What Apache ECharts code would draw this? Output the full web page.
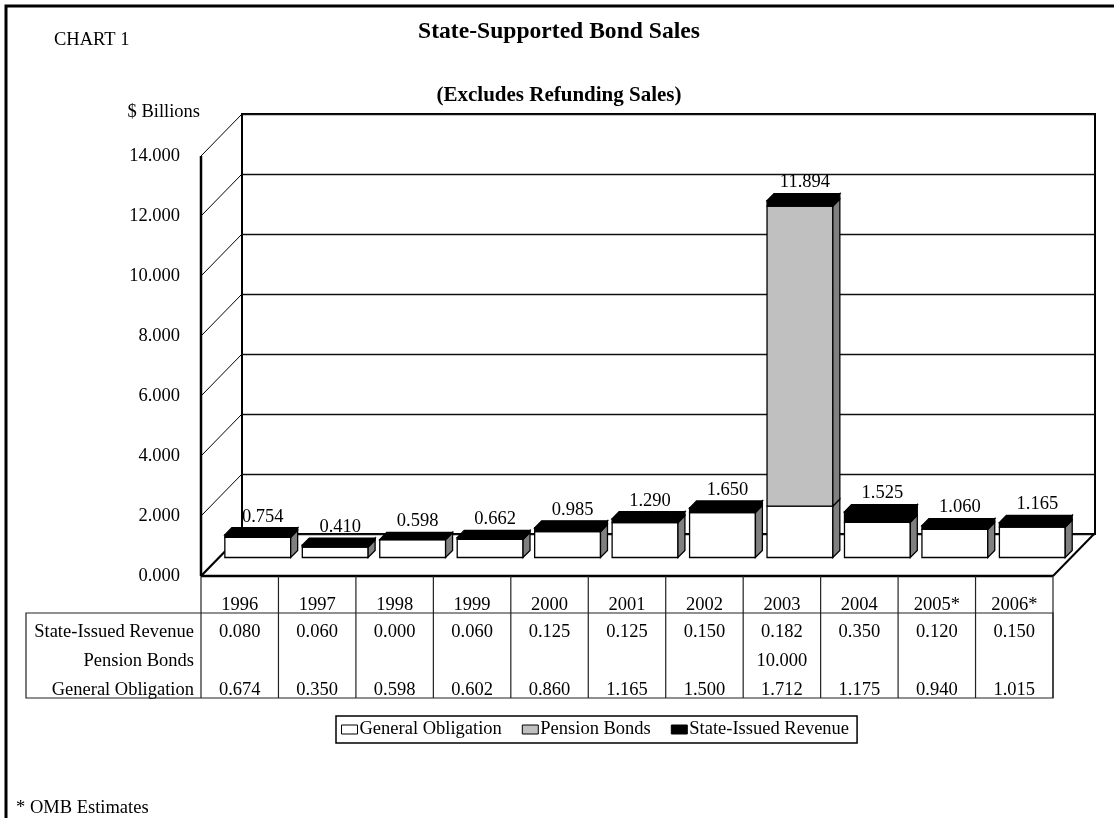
<!DOCTYPE html>
<html><head><meta charset="utf-8">
<script src="https://cdn.jsdelivr.net/npm/echarts@6/dist/echarts.min.js"></script>
<style>html,body{margin:0;padding:0;background:#fff}#c{width:1120px;height:818px}</style>
</head><body><div id="c"></div>
<script>
// ---- data ----
const years = ['1996','1997','1998','1999','2000','2001','2002','2003','2004','2005*','2006*'];
const generalObligation  = [0.674,0.350,0.598,0.602,0.860,1.165,1.500,1.712,1.175,0.940,1.015];
const pensionBonds       = [null,null,null,null,null,null,null,10.000,null,null,null];
const stateIssuedRevenue = [0.080,0.060,0.000,0.060,0.125,0.125,0.150,0.182,0.350,0.120,0.150];
const yTicks = [0,2,4,6,8,10,12,14];
const seriesNames = ['General Obligation','Pension Bonds','State-Issued Revenue'];
const tableRowNames = ['State-Issued Revenue','Pension Bonds','General Obligation'];

// ---- layout ----
const FONT = 'Liberation Serif, Times New Roman, serif';
const FS = 18.5;
const FRONT = {left:201, top:156, width:852, height:420};
const DX = 41, DY = 42;               // depth of the 3D box
const BACK = {left:FRONT.left+DX, top:FRONT.top-DY, width:853, height:420};
const F0 = 0.44, F1 = 0.61;           // bar depth range
const ROW_Y = [632, 661, 690];
const YEAR_Y = 605;
const TABLE_TOP = 613, TABLE_BOTTOM = 698, TABLE_LEFT = 26;
const colors = ['#ffffff', '#c0c0c0', '#000000'];
const sideColors = ['#808080', '#808080', '#000000'];

const rows = years.map((y, i) => [i, generalObligation[i], pensionBonds[i] == null ? 0 : pensionBonds[i], stateIssuedRevenue[i]]);

function barRenderer(level) {
  return function (params, api) {
    const i = api.value(0);
    const go = api.value(1), pb = api.value(2), sir = api.value(3);
    const bounds = [[0, go], [go, go + pb], [go + pb, go + pb + sir]][level];
    if (level === 1 && !(pb > 0)) return {type: 'group', children: []};
    const cx = api.coord([i, 0])[0];
    const bw = api.size([1, 0])[0] * 0.85;
    const ox = F0 * DX, oy = F0 * DY;
    const ddx = (F1 - F0) * DX, ddy = (F1 - F0) * DY;
    const xL = cx - bw / 2 + ox, xR = cx + bw / 2 + ox;
    const yB = api.coord([i, bounds[0]])[1] - oy;
    const yT = api.coord([i, bounds[1]])[1] - oy;
    const st = {stroke: '#000', lineWidth: 1.3};
    const children = [
      {type: 'rect', shape: {x: xL, y: yT, width: xR - xL, height: yB - yT}, style: Object.assign({fill: colors[level]}, st)},
      {type: 'polygon', shape: {points: [[xR, yB], [xR, yT], [xR + ddx, yT - ddy], [xR + ddx, yB - ddy]]}, style: Object.assign({fill: sideColors[level]}, st)}
    ];
    if (level === 2) {
      children.push({type: 'polygon', shape: {points: [[xL, yT], [xR, yT], [xR + ddx, yT - ddy], [xL + ddx, yT - ddy]]}, style: Object.assign({fill: '#000'}, st)});
      const total = go + pb + sir;
      children.push({type: 'text', style: {text: total.toFixed(3), x: (xL + xR) / 2 + 5, y: yT - ddy - 11, align: 'center', verticalAlign: 'middle', fill: '#000', font: FS + 'px ' + FONT}});
    }
    return {type: 'group', children: children};
  };
}

function wallRenderer(params, api) {
  const v = api.value(1);
  const cs = params.coordSys;
  const y = api.coord([0, v])[1];
  const x0 = cs.x;
  const children = [
    {type: 'line', shape: {x1: x0, y1: y, x2: x0 + DX, y2: y - DY}, style: {stroke: '#000', lineWidth: v === 0 ? 2.2 : 1}}
  ];
  if (v === 0) {
    const yTop = api.coord([0, yTicks[yTicks.length - 1]])[1];
    children.push({type: 'line', shape: {x1: x0, y1: y, x2: x0 + cs.width, y2: y}, style: {stroke: '#000', lineWidth: 2.5}});
    children.push({type: 'line', shape: {x1: x0 + cs.width, y1: y, x2: x0 + cs.width + DX, y2: y - DY}, style: {stroke: '#000', lineWidth: 2}});
    children.push({type: 'line', shape: {x1: x0, y1: y, x2: x0, y2: yTop}, style: {stroke: '#000', lineWidth: 2.5}});
  }
  return {type: 'group', children: children};
}

function tableRenderer(params, api) {
  const i = api.value(0);
  const cx = api.coord([i, 0])[0];
  const band = api.size([1, 0])[0];
  const yFloor = api.coord([i, 0])[1];
  const txt = (t, y) => ({type: 'text', style: {text: t, x: cx, y: y, align: 'center', verticalAlign: 'middle', fill: '#000', font: FS + 'px ' + FONT}});
  const children = [
    txt(years[i], YEAR_Y),
    txt(stateIssuedRevenue[i].toFixed(3), ROW_Y[0]),
    txt(generalObligation[i].toFixed(3), ROW_Y[2]),
    {type: 'line', shape: {x1: cx + band / 2, y1: yFloor, x2: cx + band / 2, y2: TABLE_BOTTOM}, style: {stroke: '#222', lineWidth: 1.2}}
  ];
  if (pensionBonds[i] != null) children.push(txt(pensionBonds[i].toFixed(3), ROW_Y[1]));
  if (i === 0) children.push({type: 'line', shape: {x1: cx - band / 2, y1: yFloor, x2: cx - band / 2, y2: TABLE_BOTTOM}, style: {stroke: '#222', lineWidth: 1.2}});
  return {type: 'group', children: children};
}

const chart = echarts.init(document.getElementById('c'), null, {renderer: 'canvas'});
const graphics = [
  {type: 'polyline', shape: {points: [[6, 840], [6, 6], [1114, 6]]}, style: {stroke: '#000', lineWidth: 3, fill: null}},
  {type: 'text', style: {text: 'State-Supported Bond Sales', x: 559, y: 32, align: 'center', verticalAlign: 'middle', font: 'bold 23.6px ' + FONT, fill: '#000'}},
  {type: 'text', style: {text: '(Excludes Refunding Sales)', x: 559, y: 96, align: 'center', verticalAlign: 'middle', font: 'bold 21px ' + FONT, fill: '#000'}},
  {type: 'text', style: {text: 'CHART 1', x: 54, y: 40, align: 'left', verticalAlign: 'middle', font: FS + 'px ' + FONT, fill: '#000'}},
  {type: 'text', style: {text: '$ Billions', x: 200, y: 112, align: 'right', verticalAlign: 'middle', font: FS + 'px ' + FONT, fill: '#000'}},
  {type: 'text', style: {text: '* OMB Estimates', x: 16, y: 808, align: 'left', verticalAlign: 'middle', font: FS + 'px ' + FONT, fill: '#000'}},
  {type: 'rect', shape: {x: TABLE_LEFT, y: TABLE_TOP, width: FRONT.left + FRONT.width - TABLE_LEFT, height: TABLE_BOTTOM - TABLE_TOP}, style: {stroke: '#222', lineWidth: 1.2, fill: null}}
];
tableRowNames.forEach((n, k) => graphics.push({type: 'text', style: {text: n, x: 194, y: ROW_Y[k], align: 'right', verticalAlign: 'middle', font: FS + 'px ' + FONT, fill: '#000'}}));

chart.setOption({
  animation: false,
  backgroundColor: '#fff',
  grid: [
    Object.assign({containLabel: false}, FRONT),
    Object.assign({containLabel: false, show: true, borderColor: '#000', borderWidth: 2, backgroundColor: 'transparent'}, BACK)
  ],
  xAxis: [
    {type: 'category', data: years, gridIndex: 0, show: false},
    {type: 'category', data: years, gridIndex: 1, show: false}
  ],
  yAxis: [
    {type: 'value', gridIndex: 0, min: 0, max: 14, interval: 2,
     axisLine: {show: false}, axisTick: {show: false}, splitLine: {show: false},
     axisLabel: {margin: 21, color: '#000', fontSize: FS, fontFamily: FONT, formatter: v => v.toFixed(3)}},
    {type: 'value', gridIndex: 1, min: 0, max: 14, interval: 2,
     axisLine: {show: false}, axisTick: {show: false}, axisLabel: {show: false},
     splitLine: {show: true, lineStyle: {color: '#111', width: 1.3}}}
  ],
  legend: {
    data: seriesNames.map((n, k) => ({name: n, itemStyle: {color: colors[k], borderColor: '#000', borderWidth: 1}})),
    left: 336, top: 716, orient: 'horizontal', icon: 'rect', itemWidth: 16, itemHeight: 9, itemGap: 20,
    padding: [4, 8, 4, 5], borderColor: '#000', borderWidth: 1.5, backgroundColor: '#fff',
    selectedMode: false,
    textStyle: {color: '#000', fontSize: FS, fontFamily: FONT, padding: [0, 0, 0, -3]}
  },
  graphic: graphics,
  series: [
    {type: 'custom', name: 'walls', xAxisIndex: 0, yAxisIndex: 0, z: 1, renderItem: wallRenderer,
     data: yTicks.map(v => [0, v]), encode: {x: 0, y: 1}, silent: true},
    {type: 'custom', name: seriesNames[0], xAxisIndex: 0, yAxisIndex: 0, z: 3, renderItem: barRenderer(0), data: rows, encode: {x: 0, y: 1}, itemStyle: {color: colors[0]}},
    {type: 'custom', name: seriesNames[1], xAxisIndex: 0, yAxisIndex: 0, z: 3, renderItem: barRenderer(1), data: rows, encode: {x: 0, y: 2}, itemStyle: {color: colors[1]}},
    {type: 'custom', name: seriesNames[2], xAxisIndex: 0, yAxisIndex: 0, z: 3, renderItem: barRenderer(2), data: rows, encode: {x: 0, y: 3}, itemStyle: {color: colors[2]}},
    {type: 'custom', name: 'table', xAxisIndex: 0, yAxisIndex: 0, z: 4, renderItem: tableRenderer,
     data: years.map((y, i) => [i, 0]), encode: {x: 0, y: 1}, silent: true}
  ]
});
</script>
</body></html>
